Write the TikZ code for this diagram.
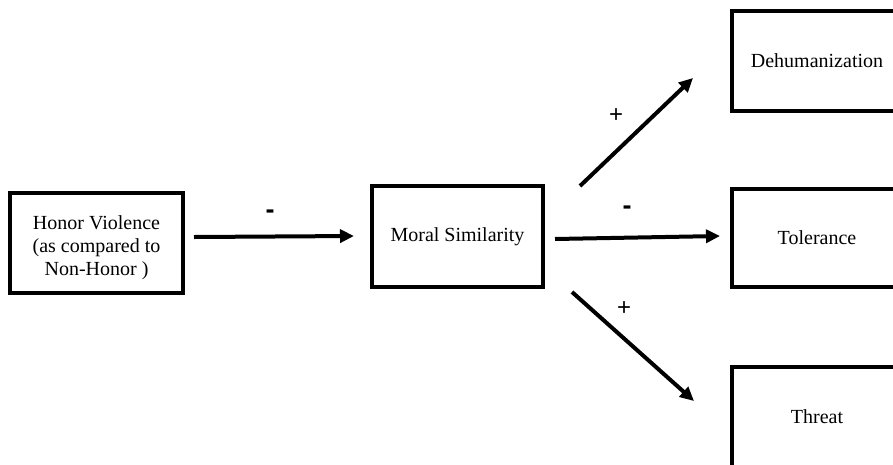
\documentclass[tikz,border=0pt]{standalone}
\usepackage{fontspec}
\setmainfont{Liberation Serif}
\newfontfamily\signfont{Liberation Sans}
\usetikzlibrary{arrows.meta}

\tikzset{
  varbox/.style={draw=black, line width=3.2pt, rectangle, align=center,
    font=\fontsize{20}{23}\selectfont, inner sep=0pt},
  pathline/.style={line width=4pt, -{Triangle[length=14pt,width=13pt]}},
  pluslabel/.style={font=\signfont\fontsize{24}{28}\selectfont, inner sep=0pt},
  minuslabel/.style={font=\signfont\bfseries\fontsize{27}{30}\selectfont, inner sep=0pt}
}

\begin{document}
\begin{tikzpicture}[x=1pt, y=-1pt]
  \useasboundingbox (0,0) rectangle (893,464);
  \begin{scope}
    \clip (0,0) rectangle (893,464);

    % variables
    \node[varbox, minimum width=173pt, minimum height=100pt] (honor) at (96.5,243)
      {\rule{0pt}{23pt}Honor Violence\\(as compared to\\Non-Honor )};
    \node[varbox, minimum width=171pt, minimum height=101pt] (moral) at (457.5,236.5)
      {Moral Similarity};
    \node[varbox, minimum width=170pt, minimum height=100pt] (dehum) at (817,61)
      {Dehumanization};
    \node[varbox, minimum width=170pt, minimum height=98pt] (toler) at (817,238)
      {Tolerance};
    \node[varbox, minimum width=170pt, minimum height=100pt] (threat) at (817,417)
      {Threat};

    % free ends of the paths
    \coordinate (hs) at (194,237);
    \coordinate (he) at (354,236);
    \coordinate (us) at (580,186);
    \coordinate (ue) at (693,78);
    \coordinate (ms) at (555,239);
    \coordinate (me) at (720,236);
    \coordinate (ds) at (572,292);
    \coordinate (de) at (694,401);

    \draw[pathline] (hs) -- (he);
    \draw[pathline] (us) -- (ue);
    \draw[pathline] (ms) -- (me);
    \draw[pathline] (ds) -- (de);

    % signs of the effects
    \node[minuslabel] (sh) at (270,214.5) {-};
    \node[pluslabel] (su) at (616,116) {+};
    \node[minuslabel] (sm) at (627,210) {-};
    \node[pluslabel] (sd) at (624,309) {+};
  \end{scope}
\end{tikzpicture}
\end{document}
